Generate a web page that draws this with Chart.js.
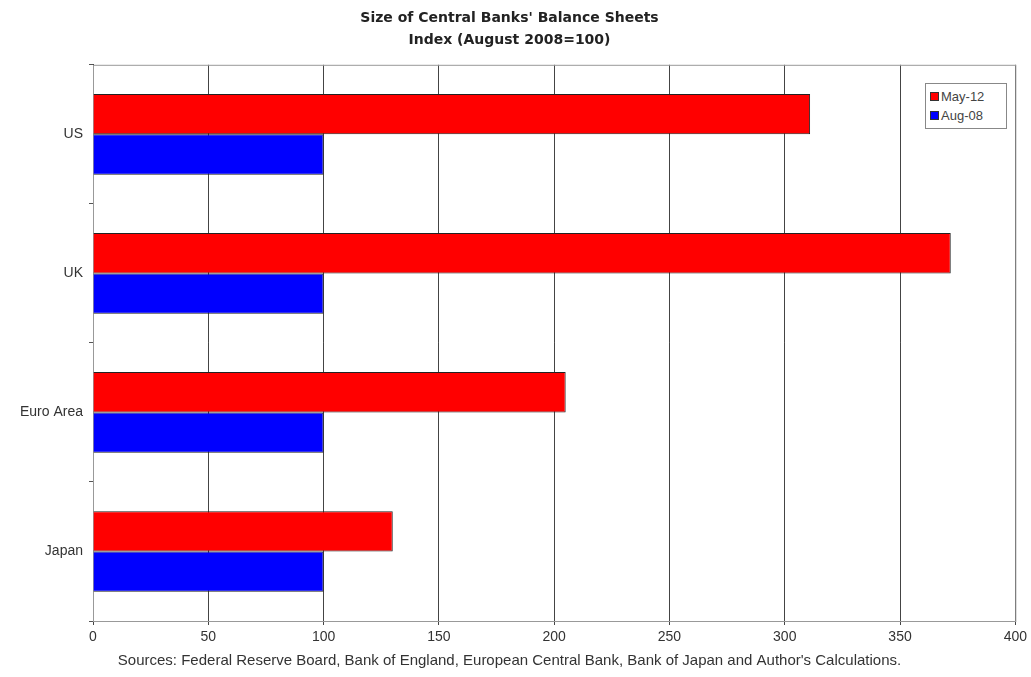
<!DOCTYPE html>
<html>
<head>
<meta charset="utf-8">
<script src="https://cdn.jsdelivr.net/npm/chart.js@4.4.1/dist/chart.umd.min.js"></script>
<style>
    html, body { margin: 0; padding: 0; background: #fff; }
    #wrap { position: relative; width: 1031px; height: 677px; }
    #legend {
        position: absolute; left: 925px; top: 83px; width: 72px;
        border: 1px solid #888; background: #fff; padding: 3px 4px;
        font: 13px 'Liberation Sans', Arial, sans-serif; color: #444;
    }
    #legend div { display: flex; align-items: center; height: 19px; }
    #legend span.sw { width: 7px; height: 7px; border: 1px solid #333; margin-right: 2px; }
</style>
</head>
<body>
<div id="wrap">
    <canvas id="bankChart" width="1031" height="677"></canvas>
    <div id="legend"></div>
</div>
<script>
// data
const regions = ['US', 'UK', 'Euro Area', 'Japan'];
const may12 = [311, 372, 205, 130];
const aug08 = [100, 100, 100, 100];
const seriesNames = ['May-12', 'Aug-08'];
const xTicks = [0, 50, 100, 150, 200, 250, 300, 350, 400];

const colors = ['#ff0000', '#0000ff'];

// border around the plot area (top + right lines of the old Excel chart)
const frame = {
    id: 'frame',
    beforeDatasetsDraw(chart) {
        const { ctx, chartArea: a } = chart;
        ctx.save();
        ctx.strokeStyle = '#999';
        ctx.lineWidth = 1;
        ctx.strokeRect(a.left + 0.5, a.top + 0.5, a.right - a.left, a.bottom - a.top);
        ctx.restore();
    }
};

const chart = new Chart(document.getElementById('bankChart'), {
    type: 'bar',
    data: {
        labels: regions,
        datasets: [
            { label: seriesNames[0], data: may12, backgroundColor: colors[0] },
            { label: seriesNames[1], data: aug08, backgroundColor: colors[1] }
        ]
    },
    options: {
        indexAxis: 'y',
        responsive: false,
        animation: false,
        datasets: {
            bar: {
                borderColor: '#222',
                borderWidth: 1,
                categoryPercentage: 0.58,
                barPercentage: 1
            }
        },
        layout: { padding: { left: 0, right: 12, top: 0, bottom: 0 } },
        plugins: {
            legend: { display: false },
            tooltip: { enabled: false },
            title: {
                display: true,
                text: ["Size of Central Banks' Balance Sheets", 'Index (August 2008=100)'],
                color: '#222',
                font: { family: "'DejaVu Sans', Verdana, sans-serif", size: 14, weight: 'bold', lineHeight: 1.6 },
                padding: { top: 7, bottom: 13 }
            },
            subtitle: {
                display: true,
                position: 'bottom',
                text: "Sources: Federal Reserve Board, Bank of England, European Central Bank, Bank of Japan and Author's Calculations.",
                color: '#333',
                font: { family: "'Liberation Sans', Arial, sans-serif", size: 15 },
                padding: { top: 0, bottom: 7 }
            }
        },
        scales: {
            x: {
                min: 0,
                max: 400,
                afterBuildTicks(axis) { axis.ticks = xTicks.map(v => ({ value: v })); },
                grid: { color: '#444', lineWidth: 1, tickLength: 4 },
                border: { color: '#555' },
                ticks: { color: '#333', padding: 4, font: { family: "'Liberation Sans', Arial, sans-serif", size: 14 } },
                afterFit(axis) { axis.height = 31; }
            },
            y: {
                grid: { drawOnChartArea: false, offset: true, tickLength: 4, color: '#555' },
                border: { color: '#333' },
                ticks: { color: '#333', padding: 6, font: { family: "'Liberation Sans', Arial, sans-serif", size: 14 } },
                afterFit(axis) { axis.width = 93; }
            }
        }
    },
    plugins: [frame]
});

// legend box inside the plot, like the original
const legendEl = document.getElementById('legend');
seriesNames.forEach((name, i) => {
    const row = document.createElement('div');
    row.innerHTML = '<span class="sw" style="background:' + colors[i] + '"></span>' + name;
    legendEl.appendChild(row);
});
</script>
</body>
</html>
